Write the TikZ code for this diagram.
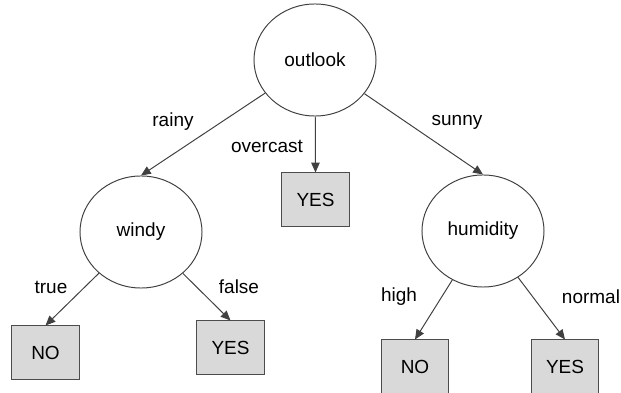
\documentclass[tikz,border=0pt]{standalone}
\usepackage{fontspec}
\setmainfont{Liberation Sans}
\usetikzlibrary{shapes.geometric, arrows.meta}

\begin{document}
\begin{tikzpicture}[x=0.025cm, y=-0.025cm, >={Stealth[length=7pt, width=6pt, inset=0pt]}, line width=0.7pt,
    test/.style={ellipse, draw=black!75, minimum width=3.05cm, minimum height=2.8cm, font=\fontsize{13.5}{16}\selectfont},
    leaf/.style={rectangle, draw=black!70, fill=gray!30, minimum width=1.675cm, minimum height=1.325cm, font=\fontsize{13.5}{16}\selectfont},
    branch/.style={font=\fontsize{13.5}{16}\selectfont}]
    \useasboundingbox (0,0) rectangle (621,393);

    \node[test] (outlook) at (315,60) {outlook};
    \node[test] (windy) at (141,232) {windy};
    \node[test] (humidity) at (483,231) {humidity};

    \node[leaf] (yes1) at (315.5,199.5) {YES};
    \node[leaf] (no1) at (45.5,352.5) {NO};
    \node[leaf] (yes2) at (230.5,347.5) {YES};
    \node[leaf] (no2) at (415,366.5) {NO};
    \node[leaf] (yes3) at (565,366.5) {YES};

    \draw[->, black!75] (outlook) -- (windy.north);
    \draw[->, black!75] (outlook) -- (yes1.north);
    \draw[->, black!75] (outlook) -- (humidity.north);
    \draw[->, black!75] (windy) -- (no1.north);
    \draw[->, black!75] (windy) -- (yes2.north);
    \draw[->, black!75] (humidity) -- (no2.north);
    \draw[->, black!75] (humidity) -- (yes3.north);

    \node[branch] (rainy) at (173,122) {rainy};
    \node[branch] (overcast) at (267,146) {overcast};
    \node[branch] (sunny) at (457,122) {sunny};
    \node[branch] (true) at (51,287) {true};
    \node[branch] (false) at (239,287) {false};
    \node[branch] (high) at (399,297) {high};
    \node[branch] (normal) at (591,297) {normal};
\end{tikzpicture}
\end{document}
